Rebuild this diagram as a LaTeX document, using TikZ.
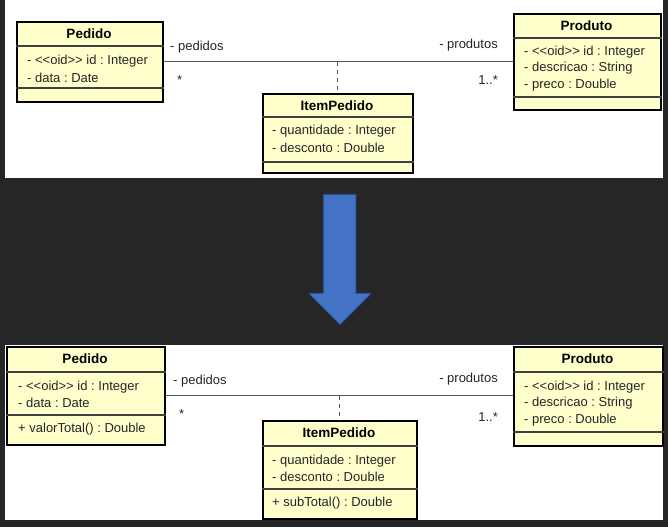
\documentclass[tikz,border=0pt]{standalone}
\usepackage{fontspec}
\setmainfont{Liberation Sans}
\usetikzlibrary{calc}
\definecolor{bgdark}{HTML}{262626}
\definecolor{clsfill}{HTML}{FFFFCC}
\definecolor{arrowblue}{HTML}{4472C4}
\definecolor{arrowedge}{HTML}{1F3A6B}
\definecolor{linegray}{HTML}{555555}
\newcommand{\oidtag}{{<}{<}oid{>}{>}}
\tikzset{
 classbox/.style={draw=black, line width=1.8pt, fill=clsfill, anchor=north west, inner sep=0pt},
 divider/.style={draw=black!75, line width=1.2pt},
 cname/.style={font=\fontsize{13.5}{15}\selectfont\bfseries\frenchspacing, inner sep=0pt},
 attr/.style={font=\fontsize{13}{15}\selectfont\frenchspacing, inner sep=0pt, anchor=west, text=black!85},
 assoc/.style={draw=linegray, line width=1pt},
 dep/.style={draw=linegray, line width=1pt, dash pattern=on 4pt off 4pt},
 role/.style={font=\fontsize{13}{15}\selectfont\frenchspacing, inner sep=0pt, text=black!85},
}
\begin{document}
\begin{tikzpicture}[x=1pt,y=-1pt]
\useasboundingbox (0,0) rectangle (668,527);
\fill[bgdark] (0,0) rectangle (668,527);
\fill[white] (5,0) rectangle (663,178);
\fill[white] (5,345) rectangle (663,520);
% arrow
\draw[fill=arrowblue, draw=arrowedge, line width=1pt] (323,194) -- (356,194) -- (356,293) -- (372,293) -- (340,325) -- (308,293) -- (323,293) -- cycle;

% ===== top diagram =====
\node[classbox, minimum width=146pt, minimum height=80pt] (tped) at (16,21) {};
\node[cname] (tpedn) at (89,34) {Pedido};
\draw[divider] ($(tped.north west)+(0,25)$) -- ($(tped.north east)+(0,25)$);
\draw[divider] ($(tped.north west)+(0,67)$) -- ($(tped.north east)+(0,67)$);
\node[attr] (tpeda1) at (27,61) {- \oidtag{} id : Integer};
\node[attr] (tpeda2) at (27,78) {- data : Date};

\node[classbox, minimum width=147pt, minimum height=96pt] (tprod) at (513,13) {};
\node[cname] (tprodn) at (586.5,26) {Produto};
\draw[divider] ($(tprod.north west)+(0,25)$) -- ($(tprod.north east)+(0,25)$);
\draw[divider] ($(tprod.north west)+(0,84)$) -- ($(tprod.north east)+(0,84)$);
\node[attr] (tproda1) at (524,52) {- \oidtag{} id : Integer};
\node[attr] (tproda2) at (524,68) {- descricao : String};
\node[attr] (tproda3) at (524,85) {- preco : Double};

\node[classbox, minimum width=150pt, minimum height=79pt] (titem) at (262,93) {};
\node[cname] (titemn) at (337,106) {ItemPedido};
\draw[divider] ($(titem.north west)+(0,24)$) -- ($(titem.north east)+(0,24)$);
\draw[divider] ($(titem.north west)+(0,69)$) -- ($(titem.north east)+(0,69)$);
\node[attr] (titema1) at (272,131) {- quantidade : Integer};
\node[attr] (titema2) at (272,148) {- desconto : Double};

\draw[assoc] (tped.east) -- (tprod.west |- tped.east);
\coordinate (tmid) at (titem.north |- tped.east);
\draw[dep] (tmid) -- (titem.north);
\node[role, anchor=west] (tr1) at (170,47) {- pedidos};
\node[role, anchor=west] (tr2) at (177,80) {*};
\node[role, anchor=east] (tr3) at (498,45) {- produtos};
\node[role, anchor=east] (tr4) at (498,80) {1..*};

% ===== bottom diagram =====
\node[classbox, minimum width=158pt, minimum height=98pt] (bped) at (6,346) {};
\node[cname] (bpedn) at (85,359) {Pedido};
\draw[divider] ($(bped.north west)+(0,26)$) -- ($(bped.north east)+(0,26)$);
\draw[divider] ($(bped.north west)+(0,69)$) -- ($(bped.north east)+(0,69)$);
\node[attr] (bpeda1) at (18,387) {- \oidtag{} id : Integer};
\node[attr] (bpeda2) at (18,403) {- data : Date};
\node[attr] (bpedm1) at (18,429) {+ valorTotal() : Double};

\node[classbox, minimum width=149pt, minimum height=99pt] (bprod) at (513,346) {};
\node[cname] (bprodn) at (587.5,359) {Produto};
\draw[divider] ($(bprod.north west)+(0,26)$) -- ($(bprod.north east)+(0,26)$);
\draw[divider] ($(bprod.north west)+(0,86)$) -- ($(bprod.north east)+(0,86)$);
\node[attr] (bproda1) at (524,387) {- \oidtag{} id : Integer};
\node[attr] (bproda2) at (524,403) {- descricao : String};
\node[attr] (bproda3) at (524,420) {- preco : Double};

\node[classbox, minimum width=154pt, minimum height=98pt] (bitem) at (262,420) {};
\node[cname] (bitemn) at (339,433) {ItemPedido};
\draw[divider] ($(bitem.north west)+(0,26)$) -- ($(bitem.north east)+(0,26)$);
\draw[divider] ($(bitem.north west)+(0,69)$) -- ($(bitem.north east)+(0,69)$);
\node[attr] (bitema1) at (272,461) {- quantidade : Integer};
\node[attr] (bitema2) at (272,477) {- desconto : Double};
\node[attr] (bitemm1) at (272,503) {+ subTotal() : Double};

\draw[assoc] (bped.east) -- (bprod.west |- bped.east);
\coordinate (bmid) at (bitem.north |- bped.east);
\draw[dep] (bmid) -- (bitem.north);
\node[role, anchor=west] (br1) at (173,381) {- pedidos};
\node[role, anchor=west] (br2) at (179,414) {*};
\node[role, anchor=east] (br3) at (498,379) {- produtos};
\node[role, anchor=east] (br4) at (498,417) {1..*};
\end{tikzpicture}
\end{document}
